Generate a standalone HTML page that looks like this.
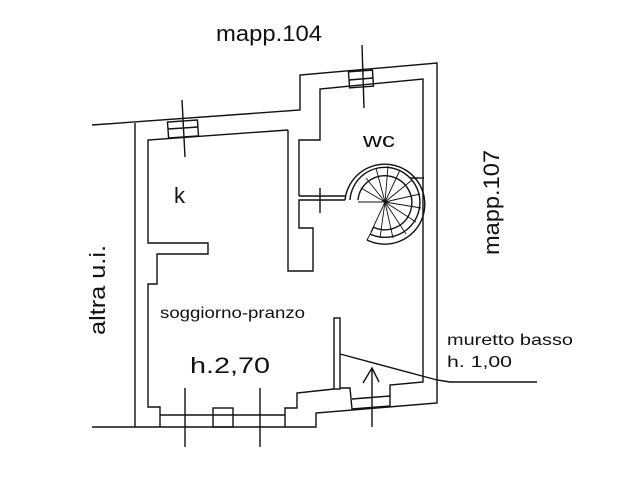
<!DOCTYPE html>
<html><head><meta charset="utf-8"><style>
html,body{margin:0;padding:0;background:#fff;}
svg{display:block;}
text{font-family:"Liberation Sans",sans-serif;fill:#111;}
</style></head><body>
<svg width="626" height="482" viewBox="0 0 626 482" xmlns="http://www.w3.org/2000/svg">
<g fill="none" stroke="#111" stroke-width="1.4">
<polyline points="92,125 300,110 300,75 437,63 437,403 316,413 316,427 92,427"/>
<line x1="135" y1="123" x2="135" y2="427"/>
<polyline points="288,130 148,140 148,243 208,243 208,254 157,254 157,284 148,284 148,407 160,407 160,427"/>
<polyline points="288,130 288,271 313,271 313,228 299,228 299,200 345,200"/>
<polyline points="299,196 299,140 320,140 320,89 423,79 423,382 390,385 390,406 352,409 350,388 340,388"/>
<polyline points="285,427 285,408 297,408 297,393 334,389"/>
<rect x="334" y="318" width="6" height="71"/>
<line x1="352" y1="399" x2="390" y2="396"/>
<line x1="160" y1="415" x2="285" y2="415"/>
<rect x="213" y="408" width="20" height="19"/>
<line x1="185" y1="388" x2="185" y2="447"/>
<line x1="260" y1="388" x2="260" y2="447"/>
<rect x="168" y="121" width="30" height="16" transform="rotate(-4 183 129)"/>
<line x1="168" y1="129" x2="198" y2="127"/>
<line x1="182" y1="100" x2="185" y2="157"/>
<rect x="349" y="71" width="24" height="16" transform="rotate(-4 361 79)"/>
<line x1="349" y1="80" x2="373" y2="78"/>
<line x1="362" y1="45" x2="364" y2="108"/>
<line x1="299" y1="196" x2="345" y2="196"/>
<line x1="320" y1="188" x2="320" y2="213"/>
<path d="M345,200 A40,40 0 1 1 367,240"/>
<path d="M350,200 A35,35 0 1 1 370,234"/>
<path d="M358,200 A27,27 0 1 1 373,227"/>
<line x1="424" y1="178" x2="410" y2="178"/>
<g stroke-width="0.9">
<line x1="385" y1="202" x2="358" y2="202"/>
<line x1="385" y1="202" x2="361" y2="188"/>
<line x1="385" y1="202" x2="366" y2="178"/>
<line x1="385" y1="202" x2="376" y2="168"/>
<line x1="385" y1="202" x2="388" y2="166"/>
<line x1="385" y1="202" x2="400" y2="170"/>
<line x1="385" y1="202" x2="412" y2="180"/>
<line x1="385" y1="202" x2="420" y2="194"/>
<line x1="385" y1="202" x2="421" y2="208"/>
<line x1="385" y1="202" x2="416" y2="222"/>
<line x1="385" y1="202" x2="406" y2="234"/>
<line x1="385" y1="202" x2="393" y2="238"/>
<line x1="385" y1="202" x2="380" y2="238"/>
<line x1="385" y1="202" x2="371" y2="232"/>
<line x1="367" y1="240" x2="374" y2="227"/>
</g>
<polyline points="340,354 437,380 450,382 537,382"/>
<line x1="372" y1="427" x2="372" y2="368"/>
<polyline points="363,383 372,368 379,382"/>
</g>
<text x="216" y="41" font-size="22" textLength="106" lengthAdjust="spacingAndGlyphs">mapp.104</text>
<text transform="translate(499,255) rotate(-90)" font-size="22" textLength="105" lengthAdjust="spacingAndGlyphs">mapp.107</text>
<text transform="translate(105,335) rotate(-90)" font-size="22" textLength="90" lengthAdjust="spacingAndGlyphs">altra u.i.</text>
<text x="174" y="203" font-size="22">k</text>
<text x="363" y="147" font-size="20" textLength="32" lengthAdjust="spacingAndGlyphs">wc</text>
<text x="160" y="318" font-size="16" textLength="145" lengthAdjust="spacingAndGlyphs">soggiorno-pranzo</text>
<text x="190" y="373" font-size="22" textLength="80" lengthAdjust="spacingAndGlyphs">h.2,70</text>
<text x="447" y="345" font-size="16" textLength="126" lengthAdjust="spacingAndGlyphs">muretto basso</text>
<text x="447" y="367" font-size="16" textLength="65" lengthAdjust="spacingAndGlyphs">h. 1,00</text>
</svg>
</body></html>
